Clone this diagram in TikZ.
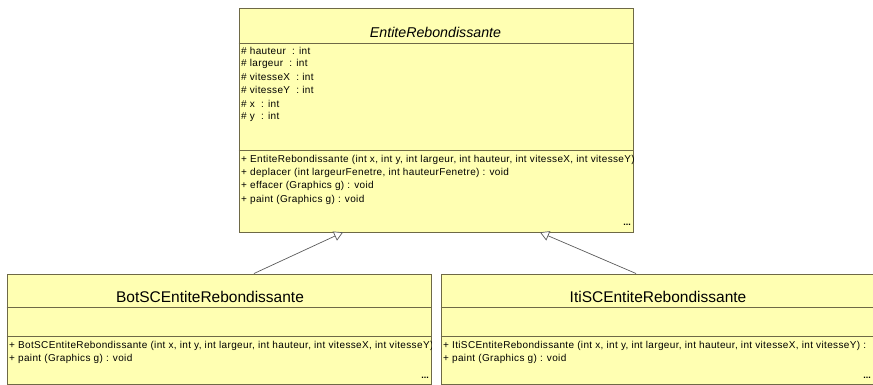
\documentclass[tikz,border=0pt]{standalone}
\usepackage{fontspec}
\setmainfont{Liberation Sans}
\newfontfamily\memberfont[LetterSpace=3.5]{Liberation Sans}
\usetikzlibrary{arrows.meta}
\definecolor{boxfill}{RGB}{255,255,178}
\definecolor{boxline}{RGB}{110,105,70}
\definecolor{linkcol}{RGB}{90,90,90}
\begin{document}
\begin{tikzpicture}[x=1pt,y=-1pt,
  classbox/.style={draw=boxline, fill=boxfill, line width=0.8pt, inner sep=0pt, anchor=north west},
  sepline/.style={draw=boxline, line width=0.8pt},
  member/.style={anchor=west, inner sep=0pt, font=\memberfont\fontsize{10}{12}\selectfont},
  cname/.style={inner sep=0pt, font=\fontsize{15.5}{18}\selectfont},
  dotsnode/.style={anchor=east, inner sep=0pt, font=\fontsize{9}{10}\selectfont\bfseries},
  inherit/.style={draw=linkcol, line width=0.7pt, -{Triangle[open, length=9pt, width=10pt, fill=white]}}]
\useasboundingbox (0,0) rectangle (873,384);
\clip (0,0) rectangle (873,384);

% boxes
\node[classbox, minimum width=394pt, minimum height=224pt] (top) at (238.5,7.5) {};
\node[classbox, minimum width=424pt, minimum height=110pt] (botleft) at (6.5,273.5) {};
\node[classbox, minimum width=440pt, minimum height=110pt] (botright) at (440.5,273.5) {};

% connectors
\path (top.south west) ++(104.5,0) coordinate (t1);
\path (top.south west) ++(301.5,0) coordinate (t2);
\path (botleft.north west) ++(247.5,0) coordinate (b1);
\path (botright.north west) ++(195.5,0) coordinate (b2);
\draw[inherit] (b1) -- (t1);
\draw[inherit] (b2) -- (t2);

% top box
\draw[sepline] (top.west |- 0,43.5) -- (top.east |- 0,43.5);
\draw[sepline] (top.west |- 0,150.5) -- (top.east |- 0,150.5);
\begin{scope}
\clip (top.north west) rectangle (top.south east);
\node[cname, font=\fontsize{14.2}{17}\selectfont\itshape] (topname) at (435.5,32) {EntiteRebondissante};
\node[member] (a1) at (241,51) {\# hauteur \ : int};
\node[member] (a2) at (241,64) {\# largeur \ : int};
\node[member] (a3) at (241,77) {\# vitesseX \ : int};
\node[member] (a4) at (241,90) {\# vitesseY \ : int};
\node[member] (a5) at (241,103.5) {\# x \ : int};
\node[member] (a6) at (241,116.5) {\# y \ : int};
\node[member] (m1) at (241,160) {+ EntiteRebondissante (int x, int y, int largeur, int hauteur, int vitesseX, int vitesseY) : };
\node[member] (m2) at (241,173) {+ deplacer (int largeurFenetre, int hauteurFenetre) : void};
\node[member] (m3) at (241,186) {+ effacer (Graphics g) : void};
\node[member] (m4) at (241,199.5) {+ paint (Graphics g) : void};
\node[dotsnode] (d1) at (631,225) {...};
\end{scope}

% bottom left box
\draw[sepline] (botleft.west |- 0,307.5) -- (botleft.east |- 0,307.5);
\draw[sepline] (botleft.west |- 0,336.5) -- (botleft.east |- 0,336.5);
\begin{scope}
\clip (botleft.north west) rectangle (botleft.south east);
\node[cname] (blname) at (210,297) {BotSCEntiteRebondissante};
\node[member] (bm1) at (9,346) {+ BotSCEntiteRebondissante (int x, int y, int largeur, int hauteur, int vitesseX, int vitesseY) : };
\node[member] (bm2) at (9,359) {+ paint (Graphics g) : void};
\node[dotsnode] (d2) at (429,378) {...};
\end{scope}

% bottom right box
\draw[sepline] (botright.west |- 0,307.5) -- (botright.east |- 0,307.5);
\draw[sepline] (botright.west |- 0,336.5) -- (botright.east |- 0,336.5);
\begin{scope}
\clip (botright.north west) rectangle (botright.south east);
\node[cname] (brname) at (658,297) {ItiSCEntiteRebondissante};
\node[member] (rm1) at (443,346) {+ ItiSCEntiteRebondissante (int x, int y, int largeur, int hauteur, int vitesseX, int vitesseY) : };
\node[member] (rm2) at (443,359) {+ paint (Graphics g) : void};
\node[dotsnode] (d3) at (871,378) {...};
\end{scope}
\end{tikzpicture}
\end{document}
